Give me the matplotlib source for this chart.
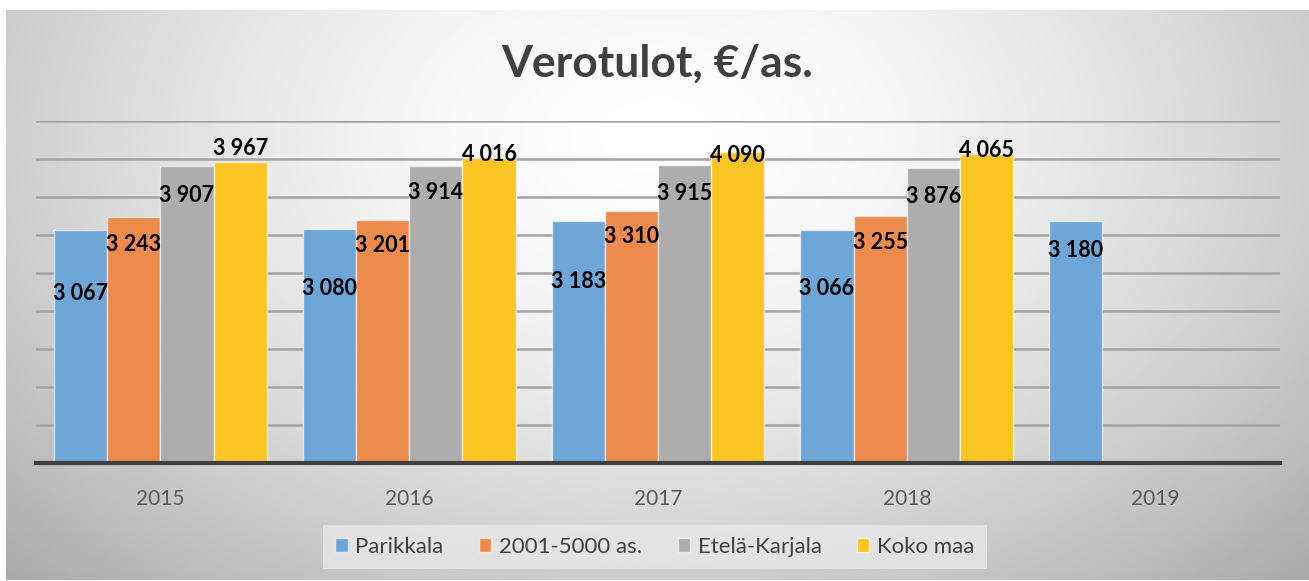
import numpy as np
import matplotlib.pyplot as plt

years = ["2015", "2016", "2017", "2018", "2019"]
series_names = ["Parikkala", "2001-5000 as.", "Etelä-Karjala", "Koko maa"]
parikkala = [3067, 3080, 3183, 3066, 3180]
kunnat_2001_5000 = [3243, 3201, 3310, 3255, np.nan]
etela_karjala = [3907, 3914, 3915, 3876, np.nan]
koko_maa = [3967, 4016, 4090, 4065, np.nan]

colors = ["#6ea6d8", "#ec8b4b", "#adadad", "#fdc624"]
# label shift below bar top, pixels (as placed in the original)
label_shift = [[64, 60, 60, 59, 29],
               [28, 26, 25, 27, 0],
               [29, 27, 28, 28, 0],
               [-13, -3, 3, -4, 0]]

plt.rcParams['font.family'] = ['Lato', 'DejaVu Sans']

W, H = 1309, 581
fig = plt.figure(figsize=(W / 100, H / 100), dpi=100)
fig.patch.set_facecolor("white")

# gradient background panel
bg = fig.add_axes([6 / W, 1 - 580 / H, 1 - 6 / W, 570 / H])
yy, xx = np.mgrid[0:1:300j, 0:1:600j]
r = np.sqrt(((xx - 0.5) / 0.62) ** 2 + ((yy - 0.22) / 0.95) ** 2)
shade = 1.0 - 0.27 * np.clip(r, 0, 1.2) ** 1.6
bg.imshow(shade, cmap="gray", vmin=0, vmax=1, aspect="auto",
          extent=[0, 1, 1, 0], interpolation="bilinear")
bg.set_axis_off()

ax = fig.add_axes([36 / W, 1 - 463 / H, (1280 - 36) / W, (463 - 121) / H])
ax.patch.set_alpha(0)

x = np.arange(len(years))
width = 0.214
data = [parikkala, kunnat_2001_5000, etela_karjala, koko_maa]
for i, (name, vals) in enumerate(zip(series_names, data)):
    pos = x + (i - 1.5) * width
    ax.bar(pos, vals, width, color=colors[i], label=name,
           edgecolor=(1, 1, 1, 0.6), linewidth=1, zorder=3)
    for j, v in enumerate(vals):
        if np.isnan(v):
            continue
        ax.annotate(f"{v:,.0f}".replace(",", " "), (pos[j], v),
                    xytext=(0, -label_shift[i][j]), textcoords="offset pixels",
                    ha="center", va="center", fontsize=15.5,
                    fontweight="bold", color="black", zorder=4)

ax.set_xlim(-0.5, len(years) - 0.5)
ax.set_ylim(0, 4500)
ax.set_yticks(np.arange(500, 4501, 500))
ax.yaxis.grid(True, color="#a3a3a3", linewidth=1.8, zorder=0)
ax.tick_params(axis="y", left=False, labelleft=False)
ax.set_xticks(x)
ax.set_xticklabels(years, fontsize=15, color="#595959")
ax.tick_params(axis="x", length=0, pad=19)
for s in ["top", "right", "left"]:
    ax.spines[s].set_visible(False)
ax.spines["bottom"].set_color("#404040")
ax.spines["bottom"].set_linewidth(3)
ax.spines["bottom"].set_zorder(5)

fig.text(657 / W, 1 - 64 / H, "Verotulot, €/as.", ha="center", va="center",
         fontsize=32, fontweight="bold", color="#404040")

leg = fig.legend(loc="center", bbox_to_anchor=(655 / W, 1 - 547 / H), ncol=4,
                 fontsize=16, frameon=True, fancybox=False, handlelength=0.55,
                 handleheight=0.55, handletextpad=0.35, columnspacing=1.6,
                 borderpad=0.55)
leg.get_frame().set_facecolor("#e8e8e8")
leg.get_frame().set_alpha(0.8)
leg.get_frame().set_linewidth(0)
for t in leg.get_texts():
    t.set_color("#404040")

fig.savefig("out.png", dpi=100)
